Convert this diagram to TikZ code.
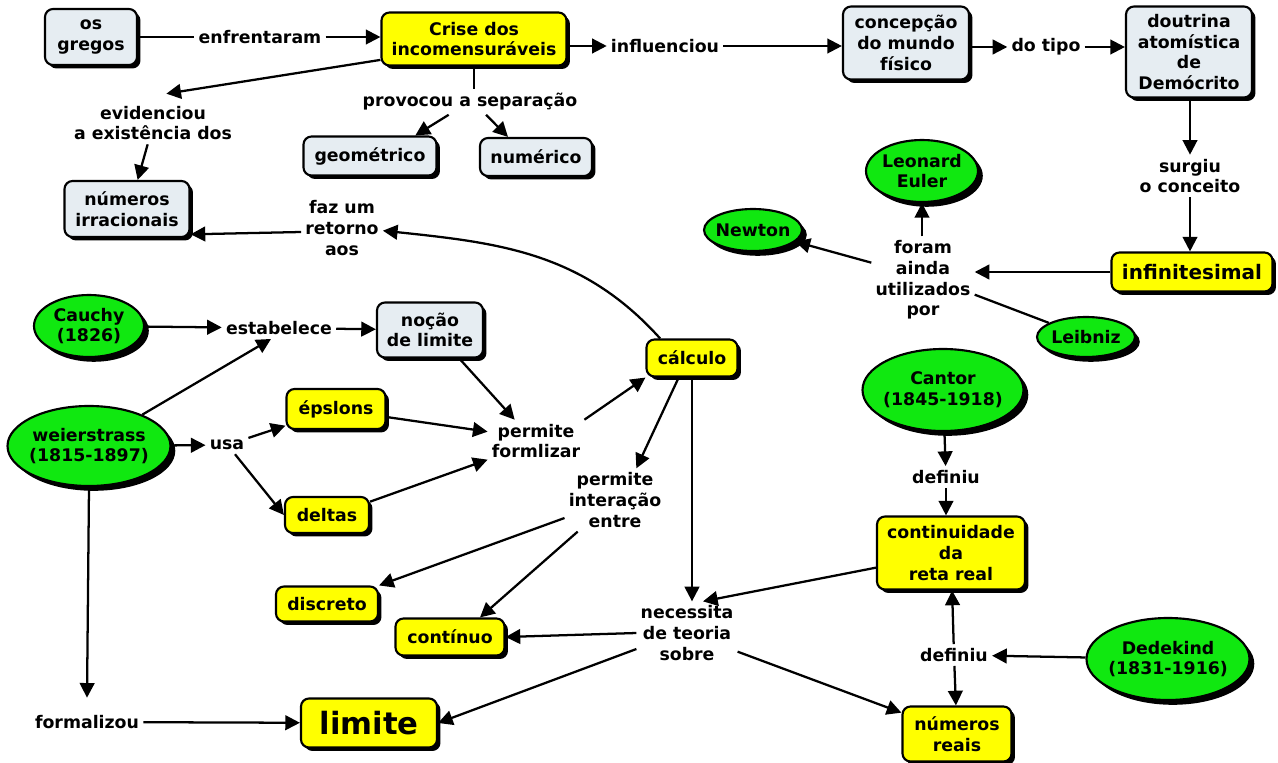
\documentclass[tikz,border=0pt]{standalone}
\usepackage{fontspec}
\setmainfont{DejaVu Sans}
\usetikzlibrary{shapes.geometric,arrows.meta}
\definecolor{boxgray}{RGB}{230,237,242}
\definecolor{conyellow}{RGB}{255,255,0}
\definecolor{persongreen}{RGB}{16,232,16}

\begin{document}
\begin{tikzpicture}[x=0.75pt,y=-0.75pt,
  txt/.style={font=\bfseries\fontsize{13}{15.5}\selectfont, align=center, text=black},
  sz/.style 2 args={minimum width=#1*0.75pt, minimum height=#2*0.75pt},
  shadowed/.style={preaction={fill=black, transform canvas={shift={(#1,-#1)}}}},
  concept/.style={txt, draw, line width=1.6pt, rounded corners=6pt, inner sep=0pt, shadowed=2.6pt},
  graybox/.style={concept, fill=boxgray},
  yellowbox/.style={concept, fill=conyellow},
  person/.style={txt, ellipse, draw, line width=1.6pt, fill=persongreen, inner xsep=-6pt, inner ysep=-4pt, shadowed=3.6pt},
  linkword/.style={txt, inner sep=3pt},
  arr/.style={line width=1.7pt, -{Triangle[length=11pt,width=11pt]}},
  plain/.style={line width=1.7pt},
]
\fill[white] (0,0) rectangle (1278,763);
\useasboundingbox (0,0) rectangle (1278,763);

% ---- concepts (boxes)
\node[graybox, sz={92}{56}]  (gregos)   at (91,37)   {os\\gregos};
\node[yellowbox, sz={185}{53}] (crise)  at (474,39)  {Crise dos\\incomensuráveis};
\node[graybox, sz={126}{73}] (concep)   at (906,43)  {concepção\\do mundo\\físico};
\node[graybox, sz={126}{91}] (doutrina) at (1189,52) {doutrina\\atomística\\de\\Demócrito};
\node[yellowbox, sz={161}{39}, font=\bfseries\fontsize{15}{17}\selectfont] (infinit) at (1192,272) {infinitesimal};
\node[graybox, sz={125}{56}] (irr)      at (127,209) {números\\irracionais};
\node[graybox, sz={133}{39}] (geom)     at (370,156) {geométrico};
\node[graybox, sz={112}{38}] (numer)    at (536,157) {numérico};
\node[graybox, sz={106}{55}] (nocao)    at (430,330) {noção\\de limite};
\node[yellowbox, sz={99}{40}] (epslons) at (336,409) {épslons};
\node[yellowbox, sz={84}{36}] (deltas)  at (327,515) {deltas};
\node[yellowbox, sz={91}{37}] (calc)    at (692,358) {cálculo};
\node[yellowbox, sz={102}{35}] (discreto) at (327,604) {discreto};
\node[yellowbox, sz={109}{37}] (continuo) at (450,637) {contínuo};
\node[yellowbox, sz={136}{49}, font=\bfseries\fontsize{23}{27}\selectfont] (limite) at (369,723) {limite};
\node[yellowbox, sz={148}{73}] (cont)   at (951,553) {continuidade\\da\\reta real};
\node[yellowbox, sz={109}{55}] (reais)  at (957,734) {números\\reais};

% ---- people (ellipses)
\node[person, sz={112}{62}]  (euler)    at (922,171) {Leonard\\Euler};
\node[person, sz={98}{42}]   (newton)   at (753,230) {Newton};
\node[person, sz={98}{40}]   (leibniz)  at (1086,337) {Leibniz};
\node[person, sz={161}{82}]  (cantor)   at (943,390) {Cantor\\(1845-1918)};
\node[person, sz={163}{82}]  (dedekind) at (1168,659) {Dedekind\\(1831-1916)};
\node[person, sz={110}{62}]  (cauchy)   at (89,326)  {Cauchy\\(1826)};
\node[person, sz={163}{80}]  (weier)    at (89,446)  {weierstrass\\(1815-1897)};

% ---- linking phrases
\node[linkword] (enfr)   at (260,37)  {enfrentaram};
\node[linkword] (infl)   at (665,46)  {influenciou};
\node[linkword] (dotipo) at (1046,47) {do tipo};
\node[linkword] (surgiu) at (1190,176) {surgiu\\o conceito};
\node[linkword] (foram)  at (923,280) {foram\\ainda\\utilizados\\por};
\node[linkword] (evid)   at (153,123) {evidenciou\\a existência dos};
\node[linkword] (prov)   at (470,102) {provocou a separação};
\node[linkword] (retorno) at (342,228) {faz um\\retorno\\aos};
\node[linkword] (estab)  at (279,328) {estabelece};
\node[linkword] (usa)    at (227,445) {usa};
\node[linkword] (pform)  at (536,441) {permite\\formlizar};
\node[linkword] (pinter) at (615,500) {permite\\interação\\entre};
\node[linkword] (necess) at (687,633) {necessita\\de teoria\\sobre};
\node[linkword] (formal) at (87,722)  {formalizou};
\node[linkword] (defa)   at (946,477) {definiu};
\node[linkword] (defb)   at (954,655) {definiu};

% ---- connectors
\draw[plain] (gregos) -- (enfr);
\draw[arr] (enfr) -- (crise.west|-enfr);
\draw[arr] (crise.east|-infl) -- (infl);
\draw[arr] (infl) -- (concep.west|-infl);
\draw[arr] (concep.east|-dotipo) -- (dotipo);
\draw[arr] (dotipo) -- (doutrina.west|-dotipo);
\draw[arr] (doutrina.south-|surgiu) -- (surgiu);
\draw[arr] (surgiu) -- (infinit.north-|surgiu);
\draw[arr] (infinit.west) -- (foram.east|-infinit.west);
\draw[arr] (foram.north-|euler) -- (euler);
\draw[arr] ([yshift=13pt]foram.west) -- (newton);
\draw[plain] ([yshift=-11pt]foram.east) -- (leibniz);

\draw[arr] ([yshift=5pt]crise.south west) -- ([xshift=10pt,yshift=6pt]evid.north);
\draw[arr] ([xshift=-4pt]evid.south) -- ([xshift=8pt]irr.north);
\draw[plain] (crise.south) -- (prov.north-|crise.south);
\draw[arr] ([xshift=-16pt]prov.south) -- ([xshift=34pt]geom.north);
\draw[arr] ([xshift=12pt]prov.south) -- ([xshift=-21pt]numer.north);

\draw[arr] ([xshift=11pt]calc.north west) to[out=132,in=-6] ([yshift=-2pt]retorno.east);
\draw[arr] ([yshift=-3pt]retorno.west) -- ([yshift=-19pt]irr.east);

\draw[arr] (cauchy) -- (estab);
\draw[arr] (estab) -- (nocao);
\draw[arr] (weier) -- ([xshift=-6pt]estab.south);
\draw[arr] (weier) -- (usa);
\draw[arr] (usa) -- (epslons);
\draw[arr] ([xshift=6pt]usa.south) -- (deltas.west);
\draw[arr] ([xshift=22pt]nocao.south) -- ([xshift=-16pt]pform.north);
\draw[arr] ([yshift=-6pt]epslons.east) -- ([yshift=7pt]pform.west);
\draw[arr] ([yshift=10pt]deltas.east) -- ([yshift=-14pt]pform.west);
\draw[arr] (pform.north east) -- (calc.south west);

\draw[arr] ([xshift=-10pt]calc.south) -- ([xshift=16pt]pinter.north);
\draw[arr] (calc.south) -- (calc.south|-necess.north);
\draw[arr] ([yshift=-13.5pt]pinter.west) -- (discreto.north east);
\draw[arr] ([xshift=-28pt]pinter.south) -- ([xshift=22.5pt]continuo.north);

\draw[arr] ([yshift=-11pt]cont.west) -- ([xshift=12pt]necess.north);
\draw[arr] (necess.west) -- (continuo.east);
\draw[arr] ([yshift=-12pt]necess.west) -- (limite.east);
\draw[arr] ([yshift=-14pt]necess.east) -- ([yshift=16pt]reais.west);

\draw[arr] (weier.south) -- ([yshift=10pt]formal.north);
\draw[arr] (formal) -- (limite);

\draw[arr] (cantor) -- (defa);
\draw[arr] (defa) -- (cont.north-|defa);
\draw[arr] (dedekind) -- (defb);
\draw[arr] (defb) -- (cont);
\draw[arr] (defb) -- (reais);
\end{tikzpicture}
\end{document}
